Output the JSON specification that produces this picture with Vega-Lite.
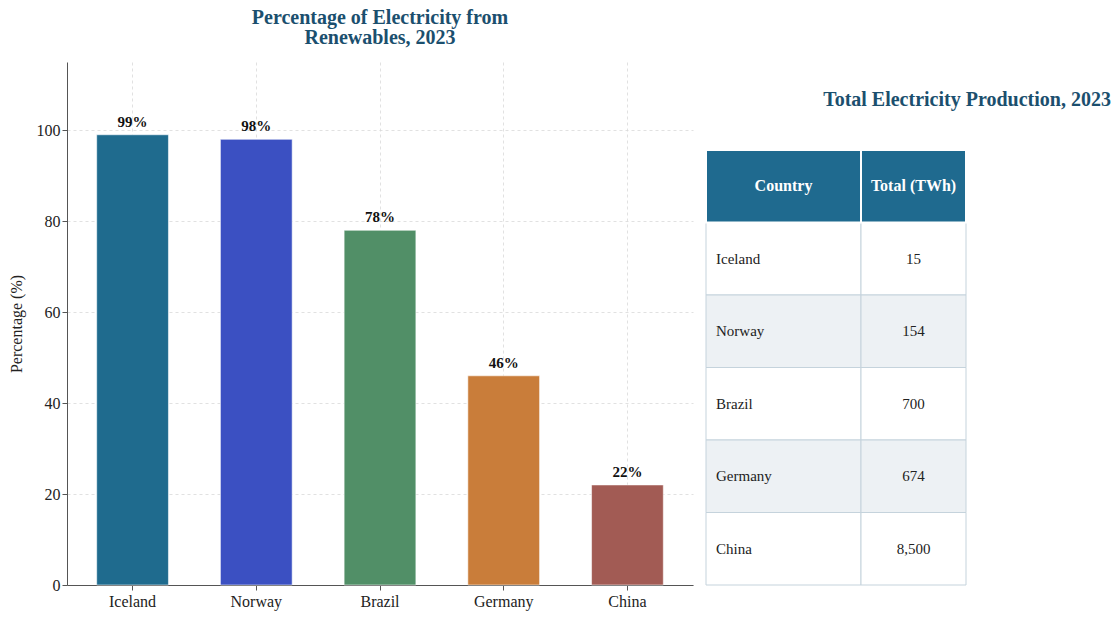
{
  "$schema": "https://vega.github.io/schema/vega-lite/v6.json",
  "padding": {"left": 8, "top": 8, "right": 5, "bottom": 5},
  "bounds": "flush",
  "spacing": 13,
  "background": "white",
  "config": {
    "font": "Liberation Serif",
    "view": {"stroke": null},
    "axis": {
      "labelFont": "Liberation Serif",
      "titleFont": "Liberation Serif",
      "labelFontSize": 16,
      "titleFontSize": 16,
      "titleFontWeight": "normal",
      "labelColor": "#222222",
      "titleColor": "#222222",
      "domainColor": "#555555",
      "tickColor": "#555555",
      "gridColor": "#d9d9d9",
      "gridDash": [3, 3],
      "gridWidth": 0.8
    },
    "title": {"font": "Liberation Serif", "fontSize": 20, "fontWeight": "bold", "color": "#1b4f6e"}
  },
  "datasets": {
    "renewables": [
      {"country": "Iceland", "pct": 99},
      {"country": "Norway", "pct": 98},
      {"country": "Brazil", "pct": 78},
      {"country": "Germany", "pct": 46},
      {"country": "China", "pct": 22}
    ],
    "production": [
      {"country": "Iceland", "twh": 15},
      {"country": "Norway", "twh": 154},
      {"country": "Brazil", "twh": 700},
      {"country": "Germany", "twh": 674},
      {"country": "China", "twh": 8500}
    ],
    "header": [
      {"column": "Country"}
    ],
    "header2": [
      {"column": "Total (TWh)"}
    ]
  },
  "hconcat": [
    {
      "title": {"text": ["Percentage of Electricity from", "Renewables, 2023"], "offset": 14, "lineHeight": 20},
      "width": 626,
      "height": 523,
      "data": {"name": "renewables"},
      "transform": [{"calculate": "datum.pct + '%'", "as": "label"}],
      "layer": [
        {
          "mark": {"type": "bar", "stroke": "#ffffff", "strokeWidth": 0.8, "strokeOpacity": 0.7},
          "encoding": {
            "x": {
              "field": "country", "type": "nominal", "sort": null,
              "scale": {"paddingInner": 0.42, "paddingOuter": 0.24},
              "axis": {"title": null, "labelAngle": 0, "grid": true, "tickSize": 5, "labelPadding": 3}
            },
            "y": {
              "field": "pct", "type": "quantitative",
              "scale": {"domain": [0, 115], "nice": false},
              "axis": {"title": "Percentage (%)", "values": [0, 20, 40, 60, 80, 100], "grid": true, "tickSize": 5, "titlePadding": 12}
            },
            "color": {
              "field": "country", "type": "nominal",
              "scale": {
                "domain": ["Iceland", "Norway", "Brazil", "Germany", "China"],
                "range": ["#1f6b8e", "#3b50c2", "#518f67", "#c97d3a", "#a25b54"]
              },
              "legend": null
            }
          }
        },
        {
          "mark": {"type": "text", "baseline": "bottom", "dy": -5, "fontSize": 15, "fontWeight": "bold", "color": "#111111"},
          "encoding": {
            "x": {"field": "country", "type": "nominal", "sort": null},
            "y": {"field": "pct", "type": "quantitative"},
            "text": {"field": "label"}
          }
        }
      ]
    },
    {
      "bounds": "flush",
      "spacing": 0,
      "hconcat": [
        {
          "width": 155,
          "height": 523,
          "layer": [
            {
              "data": {"name": "production"},
              "transform": [{"window": [{"op": "row_number", "as": "n"}]}],
              "mark": {"type": "rect", "stroke": "#c5d3dc", "strokeWidth": 1},
              "encoding": {
                "y": {
                  "field": "country", "type": "nominal",
                  "scale": {"domain": ["header", "Iceland", "Norway", "Brazil", "Germany", "China"], "paddingInner": 0, "paddingOuter": 0.607, "align": 1},
                  "axis": null
                },
                "fill": {"condition": {"test": "datum.n % 2 == 0", "value": "#edf1f4"}, "value": "#ffffff"}
              }
            },
            {
              "data": {"name": "production"},
              "mark": {"type": "text", "align": "left", "fontSize": 15, "color": "#222222"},
              "encoding": {
                "x": {"value": 10},
                "y": {"field": "country", "type": "nominal"},
                "text": {"field": "country"}
              }
            },
            {
              "data": {"name": "header"},
              "mark": {"type": "rect", "fill": "#1f6a8f", "stroke": "#ffffff", "strokeWidth": 2},
              "encoding": {"y": {"datum": "header", "type": "nominal"}}
            },
            {
              "data": {"name": "header"},
              "mark": {"type": "text", "fontSize": 16, "fontWeight": "bold", "color": "#ffffff"},
              "encoding": {"y": {"datum": "header", "type": "nominal"}, "text": {"field": "column"}}
            }
          ]
        },
        {
          "width": 105,
          "height": 523,
          "title": {"text": "Total Electricity Production, 2023", "anchor": "end", "align": "center", "offset": -48},
          "layer": [
            {
              "data": {"name": "production"},
              "transform": [{"window": [{"op": "row_number", "as": "n"}]}],
              "mark": {"type": "rect", "stroke": "#c5d3dc", "strokeWidth": 1},
              "encoding": {
                "y": {
                  "field": "country", "type": "nominal",
                  "scale": {"domain": ["header", "Iceland", "Norway", "Brazil", "Germany", "China"], "paddingInner": 0, "paddingOuter": 0.607, "align": 1},
                  "axis": null
                },
                "fill": {"condition": {"test": "datum.n % 2 == 0", "value": "#edf1f4"}, "value": "#ffffff"}
              }
            },
            {
              "data": {"name": "production"},
              "mark": {"type": "text", "align": "center", "fontSize": 15, "color": "#222222"},
              "encoding": {
                "y": {"field": "country", "type": "nominal"},
                "text": {"field": "twh", "type": "quantitative", "format": ","}
              }
            },
            {
              "data": {"name": "header2"},
              "mark": {"type": "rect", "fill": "#1f6a8f", "stroke": "#ffffff", "strokeWidth": 2},
              "encoding": {"y": {"datum": "header", "type": "nominal"}}
            },
            {
              "data": {"name": "header2"},
              "mark": {"type": "text", "fontSize": 16, "fontWeight": "bold", "color": "#ffffff"},
              "encoding": {"y": {"datum": "header", "type": "nominal"}, "text": {"field": "column"}}
            }
          ]
        }
      ]
    }
  ]
}
